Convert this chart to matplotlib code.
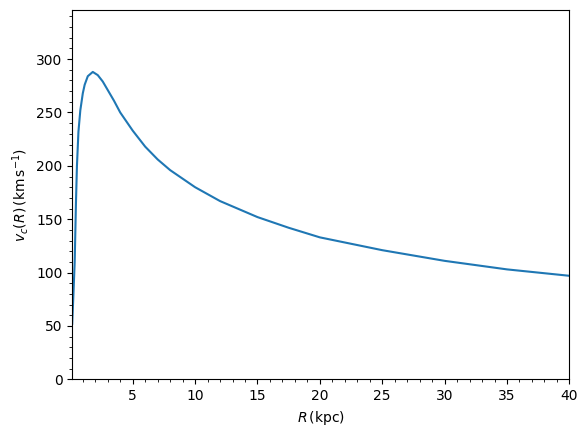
import numpy as np
import matplotlib.pyplot as plt
from matplotlib.ticker import MultipleLocator

# values
R = [0.15, 0.25, 0.35, 0.45, 0.53, 0.65, 0.8, 1.0, 1.15, 1.4, 1.8, 2.2, 2.6, 3.0,
     3.5, 4.0, 5.0, 6.0, 7.0, 8.0, 10.0, 12.0, 15.0, 17.5, 20.0, 25.0, 30.0, 35.0, 40.0]
vc = [52, 80, 110, 165, 200, 232, 252, 268, 276, 284, 288, 285, 279, 271,
      261, 250, 233, 218, 206, 196, 180, 167, 152, 142, 133, 121, 111, 103, 97]

fig, ax = plt.subplots(figsize=(5.87, 4.36), dpi=100)
ax.plot(R, vc, color='C0')
ax.set_xlim(0.15, 40)
ax.set_ylim(0, 346)
ax.xaxis.set_major_locator(MultipleLocator(5))
ax.xaxis.set_minor_locator(MultipleLocator(1))
ax.yaxis.set_major_locator(MultipleLocator(50))
ax.yaxis.set_minor_locator(MultipleLocator(10))
ax.set_xlabel(r'$R\,(\mathrm{kpc})$')
ax.set_ylabel(r'$v_c(R)\,(\mathrm{km\,s^{-1}})$')
fig.subplots_adjust(left=0.123, right=0.97, top=0.977, bottom=0.13)
fig.savefig('out.png', dpi=100)
